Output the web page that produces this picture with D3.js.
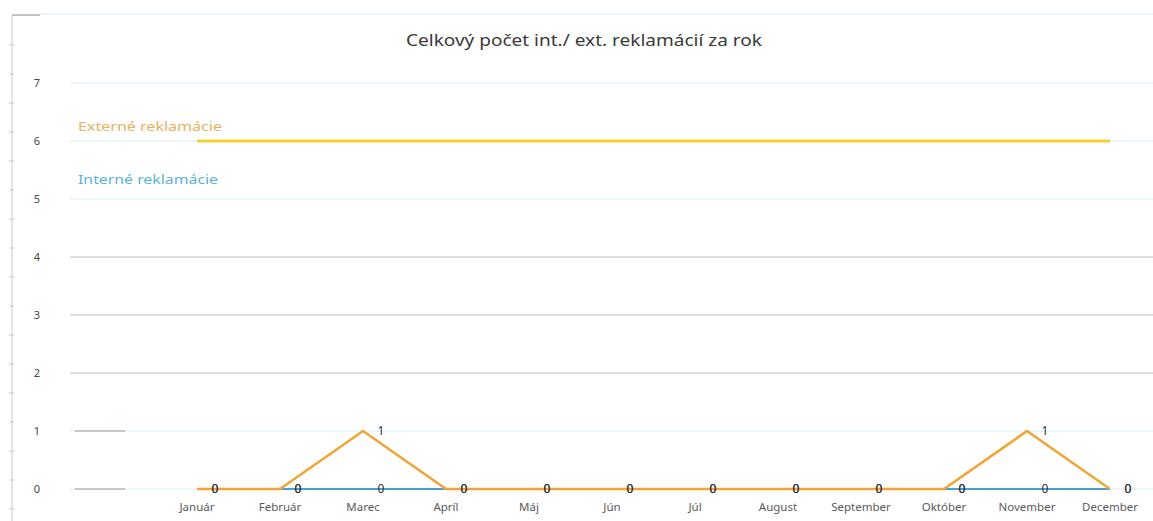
<!DOCTYPE html>
<html>
  <head>
    <meta charset="utf-8">
    <title>Reklamácie</title>
    <script type="text/javascript" src="https://d3js.org/d3.v7.min.js"></script>
    <style>
      html, body {
        margin: 0;
        background: #fff;
      }
      text { font-family: "Noto Sans", "Open Sans", sans-serif; }
    </style>
  </head>
  <body>
    <script>

    // data
    var months = ["Január", "Február", "Marec", "Apríl", "Máj", "Jún", "Júl",
                  "August", "September", "Október", "November", "December"];
    var interne = [0, 0, 0, 0, 0, 0, 0, 0, 0, 0, 0, 0];
    var externe = [0, 0, 1, 0, 0, 0, 0, 0, 0, 0, 1, 0];
    var limit   = [6, 6, 6, 6, 6, 6, 6, 6, 6, 6, 6, 6];
    var yTicks  = [0, 1, 2, 3, 4, 5, 6, 7];
    var title   = "Celkový počet int./ ext. reklamácií za rok";

    var W = 1153, H = 521;

    var svg = d3.select("body")
                .append("svg")
                .attr("width", W)
                .attr("height", H);

    var x = d3.scalePoint().domain(months).range([197, 1110]);
    var y = d3.scaleLinear().domain([0, 7]).range([489, 83]);

    // frame of the scanned chart
    svg.append("line")
      .attr("x1", 12).attr("x2", 12).attr("y1", 15).attr("y2", H)
      .attr("stroke", "#c8c8c8").attr("stroke-width", 1);
    svg.append("line")
      .attr("x1", 12).attr("x2", 40).attr("y1", 15).attr("y2", 15)
      .attr("stroke", "#b0b0b0").attr("stroke-width", 1.5);
    svg.append("line")
      .attr("x1", 40).attr("x2", W).attr("y1", 14).attr("y2", 14)
      .attr("stroke", "#e0f0f6").attr("stroke-width", 1.5);
    svg.selectAll(".frametick")
      .data(d3.range(45, H, 29))
      .enter().append("line")
      .attr("x1", 9).attr("x2", 14)
      .attr("y1", function(d) {return d}).attr("y2", function(d) {return d})
      .attr("stroke", "#c8c8c8");

    // gridlines
    var grid = svg.append("g");
    grid.selectAll("line.grid")
      .data(yTicks)
      .enter().append("line")
      .attr("class", "grid")
      .attr("x1", 70).attr("x2", W)
      .attr("y1", function(d) {return y(d)})
      .attr("y2", function(d) {return y(d)})
      .attr("stroke", function(d) {return (d >= 2 && d <= 4) ? "#bdbdbd" : "#d6edf5"})
      .attr("stroke-width", 1.2);
    grid.selectAll("line.stub")
      .data(yTicks.filter(function(d) {return d <= 1}))
      .enter().append("line")
      .attr("class", "stub")
      .attr("x1", 75).attr("x2", 125)
      .attr("y1", function(d) {return y(d)})
      .attr("y2", function(d) {return y(d)})
      .attr("stroke", "#9a9a9a").attr("stroke-width", 1.2);

    // y tick labels
    svg.selectAll("text.ytick")
      .data(yTicks)
      .enter().append("text")
      .attr("class", "ytick")
      .attr("x", 37)
      .attr("y", function(d) {return y(d) + 4})
      .attr("text-anchor", "middle")
      .attr("font-size", 11)
      .attr("fill", "#444")
      .text(function(d) {return d});

    // x category labels
    svg.selectAll("text.xtick")
      .data(months)
      .enter().append("text")
      .attr("class", "xtick")
      .attr("x", function(d) {return x(d)})
      .attr("y", 511)
      .attr("text-anchor", "middle")
      .attr("font-size", 11.5)
      .attr("fill", "#5a5a5a")
      .text(function(d) {return d});

    // title
    svg.append("text")
      .attr("x", 584).attr("y", 46)
      .attr("text-anchor", "middle")
      .attr("font-size", 17)
      .attr("textLength", 356)
      .attr("lengthAdjust", "spacingAndGlyphs")
      .attr("fill", "#3a3a3a")
      .text(title);

    var line = d3.line()
      .x(function(d, i) {return x(months[i])})
      .y(function(d) {return y(d)});

    svg.append("path")
      .datum(limit)
      .attr("d", line)
      .attr("fill", "none")
      .attr("stroke", "#f2d22e")
      .attr("stroke-width", 3);

    svg.append("path")
      .datum(interne)
      .attr("d", line)
      .attr("fill", "none")
      .attr("stroke", "#4aa0d2")
      .attr("stroke-width", 2.2);

    svg.append("path")
      .datum(externe)
      .attr("d", line)
      .attr("fill", "none")
      .attr("stroke", "#f0a535")
      .attr("stroke-width", 2.6);

    // data labels
    function labels(data, cls) {
      svg.selectAll("text." + cls)
        .data(data)
        .enter().append("text")
        .attr("class", cls)
        .attr("x", function(d, i) {return x(months[i]) + 18})
        .attr("y", function(d) {return y(d) + 4})
        .attr("text-anchor", "middle")
        .attr("font-size", 12)
        .attr("fill", "#333")
        .text(function(d) {return d});
    }
    labels(interne, "lblInt");
    labels(externe, "lblExt");

    // legend texts
    svg.append("text")
      .attr("x", 78).attr("y", 131)
      .attr("font-size", 13)
      .attr("textLength", 144)
      .attr("lengthAdjust", "spacingAndGlyphs")
      .attr("fill", "#e6b25e")
      .text("Externé reklamácie");
    svg.append("text")
      .attr("x", 78).attr("y", 184)
      .attr("font-size", 13)
      .attr("textLength", 140)
      .attr("lengthAdjust", "spacingAndGlyphs")
      .attr("fill", "#5cb3d8")
      .text("Interné reklamácie");

    </script>
  </body>
</html>
